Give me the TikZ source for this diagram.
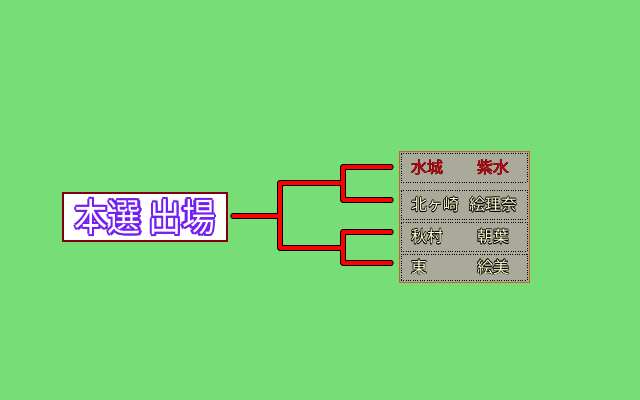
\documentclass[tikz,border=0pt]{standalone}
\usepackage{fontspec}
\setmainfont{Noto Sans CJK JP}
\usepackage{graphicx}
\usepackage{tikz}
\usetikzlibrary{positioning}

\definecolor{meadow}{RGB}{119,221,119}
\definecolor{panelgrey}{RGB}{170,170,155}
\definecolor{panelrim}{RGB}{200,96,48}
\definecolor{titlerim}{RGB}{128,0,16}
\definecolor{namepurple}{RGB}{116,30,240}
\definecolor{wine}{RGB}{176,16,24}
\definecolor{darkwine}{RGB}{120,0,10}
\definecolor{cream}{RGB}{255,255,208}

% text with a coloured rim: #1 rim width, #2 rim colour, #3 face colour, #4 text
\newdimen\rimw
\newcommand{\rimmed}[4]{%
  \leavevmode\rimw=#1\relax
  \foreach \dx/\dy in {1/0,-1/0,0/1,0/-1,.7/.7,-.7/.7,.7/-.7,-.7/-.7}{%
    \rlap{\hspace{\dx\rimw}\raisebox{\dy\rimw}{\color{#2}#4}}}%
  {\color{#3}#4}}
% one entrant: #1 rim width, #2 rim colour, #3 face colour, #4 surname, #5 given name
\newcommand{\entrant}[5]{%
  \makebox[49pt][l]{\rimmed{#1}{#2}{#3}{#4}}%
  \makebox[25pt]{\rimmed{#1}{#2}{#3}{#5}}}

\begin{document}
\begin{tikzpicture}[
    x=0.75pt, y=-0.75pt,
    title/.style={
		rectangle,
		draw=titlerim,
		line width=1.1pt,
		fill=white,
		minimum width=123pt,
		minimum height=36pt,
		inner sep=0pt,
		outer sep=0pt,
		font=\fontsize{25}{30}\selectfont
	},
	panel/.style={
		rectangle,
		draw=panelrim,
		line width=0.75pt,
		fill=panelgrey,
		minimum width=97.5pt,
		minimum height=98.25pt,
		outer sep=0pt
	},
	entry/.style={
		rectangle,
		draw=black,
		densely dotted,
		line width=0.75pt,
		fill=panelgrey,
		text width=79.5pt,
		align=left,
		inner xsep=7.5pt,
		inner ysep=0pt,
		minimum height=21.75pt,
		outer sep=0pt,
		font=\fontsize{12}{14}\selectfont
	},
	rimpen/.style={
		draw=black,
		line width=4.1pt,
		line cap=round,
		line join=round
	},
	redpen/.style={
		draw=red,
		line width=2.6pt,
		line cap=round,
		line join=round
	}
  ]
  \useasboundingbox (0,0) rectangle (640,400);
  \fill[meadow] (0,0) rectangle (640,400);

    % We start by placing the blocks
  \node [title] (title) at (145,217)
 {\scalebox{1}[1.15]{\rimmed{1.6pt}{namepurple}{white}{本選 出場}}};

  \node [panel] (panel) at (464,216.5) {};

  \node [entry, anchor=north] (row1) at ([yshift=-1.5pt]panel.north)
 {\entrant{.25pt}{darkwine}{wine}{水城}{紫水}};
  \node [entry, below=6pt of row1] (row2)
 {\entrant{.5pt}{black}{cream}{北ヶ崎}{絵理奈}};
  \node [entry, below=2.25pt of row2] (row3)
 {\entrant{.5pt}{black}{cream}{秋村}{朝葉}};
  \node [entry, below=2.25pt of row3, minimum height=19.5pt] (row4)
 {\entrant{.5pt}{black}{cream}{東}{絵美}};

  % joints of the bracket
  \coordinate (hub) at (280,216);
  \coordinate (hubA) at (343,183);
  \coordinate (hubB) at (343,248);
  \coordinate (leaf1) at (391,167);
  \coordinate (leaf2) at (391,200);
  \coordinate (leaf3) at (391,232);
  \coordinate (leaf4) at (391,263);

  \foreach \pen in {rimpen,redpen}{
   \draw [\pen] ([xshift=4.5pt]title.east |- hub) -- (hub);
   \draw [\pen] (hubA) -| (hub) |- (hubB);
   \draw [\pen] (leaf1) -| (hubA) |- (leaf2);
   \draw [\pen] (leaf3) -| (hubB) |- (leaf4);
  }

\end{tikzpicture}
\end{document}
